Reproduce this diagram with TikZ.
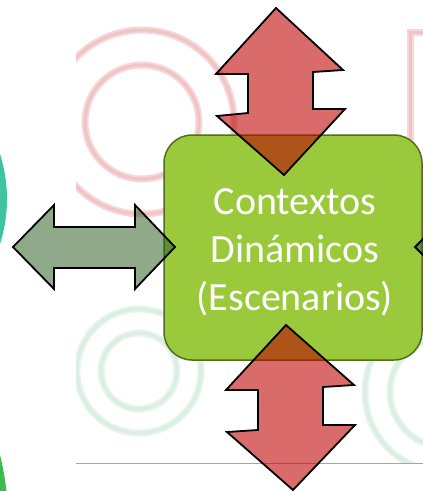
\documentclass[tikz,border=0pt]{standalone}
\usepackage{fontspec}
\newfontfamily\carlito{Carlito}
\definecolor{boxfill}{RGB}{154,202,60}
\definecolor{boxline}{RGB}{79,110,30}
\definecolor{redarr}{RGB}{190,0,0}
\definecolor{grnarr}{RGB}{40,90,30}
\definecolor{palered}{RGB}{246,214,214}
\definecolor{paleredcore}{RGB}{240,196,196}
\definecolor{palegreen}{RGB}{230,244,236}
\definecolor{palegreencore}{RGB}{218,238,226}
\definecolor{teal}{RGB}{62,196,160}
\definecolor{leafgreen}{RGB}{62,186,78}
\begin{document}
\begin{tikzpicture}[x=1pt,y=-1pt,
  redblock/.style={fill=redarr,fill opacity=0.58,draw=black,line width=1.8pt,line join=miter},
  grnblock/.style={fill=grnarr,fill opacity=0.52,draw=black,line width=1.8pt,line join=miter},
  ring/.style={line width=7pt},
  ringcore/.style={line width=3pt}]
\useasboundingbox (0,0) rectangle (423,491);
\begin{scope}
\clip (0,0) rectangle (423,491);
% faded background picture
\begin{scope}
\clip (76,0) rectangle (423,463);
\foreach \r in {57,92} {
  \draw[ring,palered] (142,122) circle (\r);
  \draw[ringcore,paleredcore] (142,122) circle (\r);
}
\draw[ring,palered] (410,170) -- (410,32) -- (440,32);
\draw[ringcore,paleredcore] (410,170) -- (410,32) -- (440,32);
\foreach \r in {38,62} {
  \draw[ring,palegreen] (139,371) circle (\r);
  \draw[ringcore,palegreencore] (139,371) circle (\r);
}
\foreach \r in {55,80} {
  \draw[ring,palegreen] (445,392) circle (\r);
  \draw[ringcore,palegreencore] (445,392) circle (\r);
}
\end{scope}
\draw[gray!70,line width=1pt] (76,463) -- (423,463);
% side circles
\fill[teal] (-140,199) circle (147);
\fill[leafgreen] (-257,520) circle (265);
% central box
\node[draw=boxline,fill=boxfill,line width=1.5pt,rounded corners=28pt,
  minimum width=258pt,minimum height=225pt,inner sep=0pt] (ctx) at (293,247.5) {};
\node[text=white,align=center,inner sep=0pt,
  font=\carlito\fontsize{40}{48}\selectfont] (lbl) at (295,252)
  {Contextos\\Din\'amicos\\(Escenarios)};
% block arrows
\draw[redblock] (276,8) -- (343,70) -- (313,72) -- (313,109) -- (345,109) -- (284,175)
  -- (217,116) -- (248,113) -- (248,74) -- (216,74) -- cycle;
\draw[redblock] (286,325) -- (354,385) -- (323,387) -- (323,425) -- (355,425) -- (293,490)
  -- (227,432) -- (258,430) -- (258,390) -- (226,390) -- cycle;
\draw[grnblock] (13,247) -- (54,205) -- (54,227) -- (135,227) -- (135,205) -- (175,247)
  -- (135,289) -- (135,268) -- (54,268) -- (54,289) -- cycle;
\draw[grnblock] (415,247) -- (440,222) -- (440,272) -- cycle;
\end{scope}
\end{tikzpicture}
\end{document}
